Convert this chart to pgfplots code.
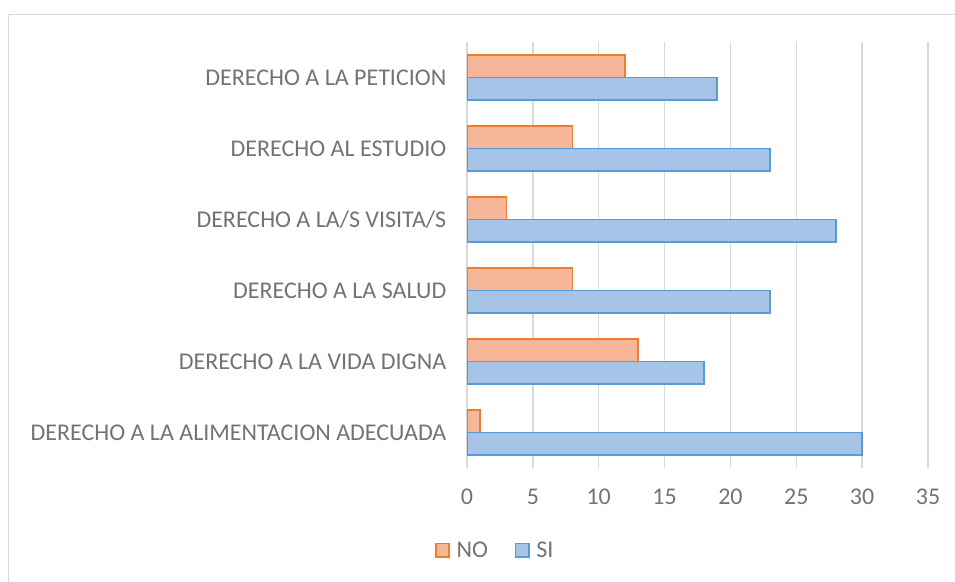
\documentclass[border=0pt]{standalone}
\usepackage{pgfplots}
\pgfplotsset{compat=1.18}
\usepackage{fontspec}
\setmainfont{Carlito}
\definecolor{txt}{HTML}{737373}
\definecolor{gridc}{HTML}{D9D9D9}
\definecolor{noedge}{HTML}{ED7D31}
\definecolor{nofill}{HTML}{F5B797}
\definecolor{siedge}{HTML}{5B9BD5}
\definecolor{sifill}{HTML}{A6C3E8}
\begin{document}
\begin{tikzpicture}
\path[use as bounding box] (0,0) rectangle (716.25pt,435.75pt);
\draw[gridc,line width=0.75pt] (6pt,424.5pt) rectangle (720pt,-5pt);
\begin{axis}[
  at={(350.25pt,84.75pt)}, anchor=south west,
  scale only axis,
  width=345.75pt, height=319.5pt,
  xbar,
  xmin=0, xmax=35,
  xtick={0,5,...,35},
  ymin=-0.5, ymax=5.5,
  ytick={0,1,2,3,4,5},
  yticklabels={DERECHO A LA ALIMENTACION ADECUADA, DERECHO A LA VIDA DIGNA, DERECHO A LA SALUD, DERECHO A LA/S VISITA/S, DERECHO AL ESTUDIO, DERECHO A LA PETICION},
  axis line style={draw=none},
  major tick length=0pt,
  xmajorgrids,
  grid style={gridc, line width=1pt},
  ticklabel style={font=\fontsize{18}{20}\selectfont, text=txt},
  yticklabel style={xshift=-12pt},
  xticklabel style={yshift=-12pt},
  /pgf/number format/assume math mode=true,
  bar width=0.32,
  legend style={at={(0.062,-0.193)}, anchor=center, draw=none, legend columns=2,
    font=\fontsize{18}{20}\selectfont, text=txt,
    /tikz/every odd column/.append style={column sep=3pt},
    /tikz/every even column/.append style={column sep=18pt}},
  legend image code/.code={\draw[#1] (0pt,-5pt) rectangle (10pt,5pt);},
]
\addplot[draw=noedge, line width=1.3pt, fill=nofill, bar shift=0.16]
  coordinates {(1,0) (13,1) (8,2) (3,3) (8,4) (12,5)};
\addlegendentry{NO}
\addplot[draw=siedge, line width=1.3pt, fill=sifill, bar shift=-0.16]
  coordinates {(30,0) (18,1) (23,2) (28,3) (23,4) (19,5)};
\addlegendentry{SI}
\end{axis}
\end{tikzpicture}
\end{document}
